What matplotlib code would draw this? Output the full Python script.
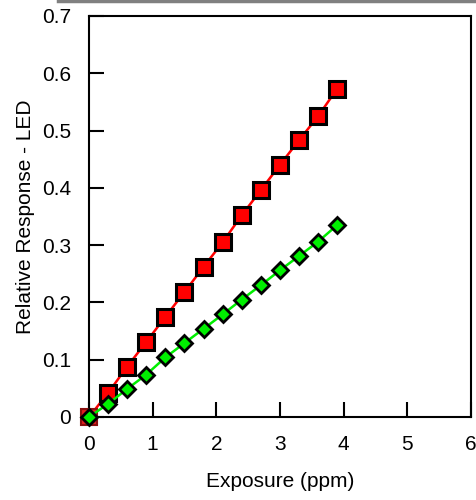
import matplotlib.pyplot as plt
from matplotlib.lines import Line2D

plt.rcParams['font.family'] = ['Liberation Sans', 'DejaVu Sans']

exposure = [0, 0.3, 0.6, 0.9, 1.2, 1.5, 1.8, 2.1, 2.4, 2.7, 3.0, 3.3, 3.6, 3.9]
red_resp = [0, 0.042, 0.088, 0.131, 0.175, 0.218, 0.262, 0.305, 0.352, 0.396,
            0.440, 0.483, 0.525, 0.573]
green_resp = [0, 0.023, 0.049, 0.074, 0.104, 0.129, 0.154, 0.179, 0.205, 0.230,
              0.256, 0.281, 0.306, 0.335]


def main():
    fig = plt.figure(figsize=(4.76, 5), dpi=100)
    ax = fig.add_axes([0.187, 0.166, 0.802, 0.802])

    ax.plot(exposure, red_resp, color='#ff0000', lw=1.8, zorder=2)
    ax.plot(exposure[1:], red_resp[1:], ls='none', marker='s', ms=12,
            mfc='#ff0000', mec='black', mew=2.2, zorder=3, clip_on=False)
    # first red point sits under the green one and looks faded
    ax.plot(exposure[:1], red_resp[:1], ls='none', marker='s', ms=12,
            mfc='#e02020', mec='#8b1010', mew=1.5, zorder=3, clip_on=False)
    ax.plot(exposure, green_resp, color='#00ee00', lw=1.8, marker='D', ms=8.5,
            mfc='#00f000', mec='black', mew=2, zorder=4, clip_on=False)

    ax.set_xlim(0, 6)
    ax.set_ylim(0, 0.7)
    ax.set_xticks(range(7))
    ax.set_yticks([0, 0.1, 0.2, 0.3, 0.4, 0.5, 0.6, 0.7])
    ax.set_yticklabels(['0', '0.1', '0.2', '0.3', '0.4', '0.5', '0.6', '0.7'])
    ax.tick_params(direction='in', length=11, width=1.5, labelsize=15, pad=13)
    for s in ax.spines.values():
        s.set_linewidth(1.5)
    ax.set_xlabel('Exposure (ppm)', fontsize=15, labelpad=13)
    ax.set_ylabel('Relative Response - LED', fontsize=15, labelpad=5)

    fig.add_artist(Line2D([0.122, 1.0], [0.998, 0.998], color='#808080', lw=2.5,
                          transform=fig.transFigure))

    fig.savefig('out.png', dpi=100)


if __name__ == '__main__':
    main()
